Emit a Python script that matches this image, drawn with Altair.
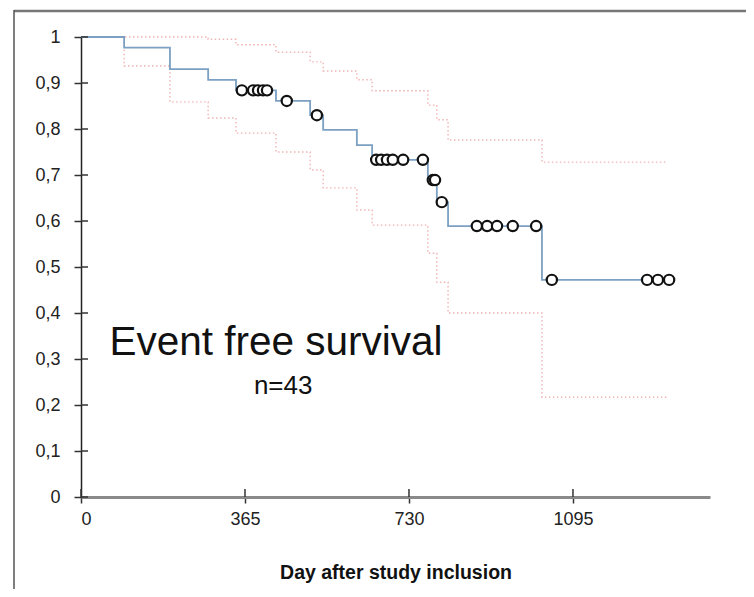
import altair as alt
import pandas as pd

# ---- data ----
step_days = [0, 96, 198, 283, 345, 434, 510, 539, 614, 648, 772, 792, 817, 1026]
km_surv = [1.0, 0.977, 0.930, 0.907, 0.884, 0.861, 0.830, 0.798, 0.765, 0.733, 0.689, 0.641, 0.589, 0.472]
ci_upper = [1.0, 1.0, 1.0, 0.995, 0.983, 0.967, 0.946, 0.926, 0.907, 0.883, 0.852, 0.820, 0.776, 0.728]
ci_lower = [1.0, 0.937, 0.859, 0.824, 0.791, 0.750, 0.711, 0.672, 0.624, 0.591, 0.530, 0.467, 0.400, 0.217]
km_end_day = 1309
ci_end_day = 1304

cens_days = [358, 383, 394, 405, 414, 458, 525, 657, 668, 681, 694, 717, 761,
             783, 788, 803, 881, 904, 926, 961, 1013, 1048, 1260, 1284, 1309]
cens_surv = [0.884, 0.884, 0.884, 0.884, 0.884, 0.861, 0.830, 0.733, 0.733, 0.733, 0.733, 0.733, 0.733,
             0.689, 0.689, 0.641, 0.589, 0.589, 0.589, 0.589, 0.589, 0.472, 0.472, 0.472, 0.472]

x_ticks = [0, 365, 730, 1095]
y_ticks = [0, 0.1, 0.2, 0.3, 0.4, 0.5, 0.6, 0.7, 0.8, 0.9, 1]

title_text = "Event free survival"
n_text = "n=43"
x_title = "Day after study inclusion"

# ---- tables ----
km_df = pd.DataFrame({"day": step_days + [km_end_day], "s": km_surv + [km_surv[-1]]})
up_df = pd.DataFrame({"day": step_days + [ci_end_day], "s": ci_upper + [ci_upper[-1]]})
lo_df = pd.DataFrame({"day": step_days + [ci_end_day], "s": ci_lower + [ci_lower[-1]]})
cens_df = pd.DataFrame({"day": cens_days, "s": cens_surv})
xt_df = pd.DataFrame({"v": x_ticks})
yt_df = pd.DataFrame({"v": y_ticks})

FONT = "Liberation Sans"
W, H = 629, 460

xscale = alt.Scale(domain=[0, 1400], nice=False, zero=False)
yscale = alt.Scale(domain=[0, 1], nice=False)

xaxis = alt.Axis(values=x_ticks, title=x_title, grid=False, format="d",
                 domainColor="#8a8a8a", domainWidth=3,
                 tickColor="#333", tickWidth=1.5, tickSize=6,
                 labelFont=FONT, labelFontSize=18, labelColor="#222", labelPadding=7,
                 titleFont=FONT, titleFontSize=19.5, titleFontWeight="bold", titleColor="#111",
                 titlePadding=35)
yaxis = alt.Axis(values=y_ticks, title=None, grid=False,
                 domainColor="#222", domainWidth=1.5,
                 tickColor="#333", tickWidth=1.5, tickSize=7,
                 labelFont=FONT, labelFontSize=18, labelColor="#222", labelPadding=14,
                 labelExpr="replace(format(datum.value, '.1~f'), '.', ',')")

base_x = alt.X("day:Q", scale=xscale, axis=xaxis)
base_y = alt.Y("s:Q", scale=yscale, axis=yaxis)

CI_COLOR = "#f1b3b3"
upper = alt.Chart(up_df).mark_line(interpolate="step-after", color=CI_COLOR,
                                   strokeWidth=1.4, strokeDash=[1.5, 2.5]).encode(x=base_x, y=base_y)
lower = alt.Chart(lo_df).mark_line(interpolate="step-after", color=CI_COLOR,
                                   strokeWidth=1.4, strokeDash=[1.5, 2.5]).encode(x="day:Q", y="s:Q")
km = alt.Chart(km_df).mark_line(interpolate="step-after", color="#7ba0c2",
                                strokeWidth=1.8).encode(x="day:Q", y="s:Q")
cens = alt.Chart(cens_df).mark_point(shape="circle", filled=False, fill="white", fillOpacity=1,
                                     stroke="#111", strokeWidth=2.2, size=105, opacity=1
                                     ).encode(x="day:Q", y="s:Q")

# inner halves of the crossing tick marks
ytick_in = alt.Chart(yt_df).mark_rule(color="#333", strokeWidth=1.5).encode(
    y="v:Q", x=alt.value(0), x2=alt.value(7))
xtick_in = alt.Chart(xt_df).mark_rule(color="#333", strokeWidth=1.5).encode(
    x="v:Q", y=alt.value(H), y2=alt.value(H - 8))

label1 = alt.Chart().mark_text(text=title_text, font=FONT,
                               fontSize=40.5, color="#111", align="center",
                               baseline="alphabetic").encode(x=alt.datum(434), y=alt.datum(0.309))
label2 = alt.Chart().mark_text(text=n_text, font=FONT,
                               fontSize=26, color="#111", align="center",
                               baseline="alphabetic").encode(x=alt.datum(450), y=alt.datum(0.224))

# outer picture frame (top and left edges)
frame_top = alt.Chart().mark_rule(color="#777", strokeWidth=2.5).encode(
    x=alt.value(-67), x2=alt.value(665), y=alt.value(-26), y2=alt.value(-26))
frame_left = alt.Chart().mark_rule(color="#555", strokeWidth=1.5).encode(
    x=alt.value(-67), x2=alt.value(-67), y=alt.value(-27), y2=alt.value(552))

chart = alt.layer(
    upper, lower, km, ytick_in, xtick_in, cens, label1, label2, frame_top, frame_left
).properties(
    width=W, height=H,
    autosize=alt.AutoSizeParams(type="none"),
    padding={"left": 73, "top": 29, "right": 36, "bottom": 92},
    background="white",
).configure_view(strokeWidth=0)

chart.save("out.html", embed_options={"renderer": "svg", "actions": False})
